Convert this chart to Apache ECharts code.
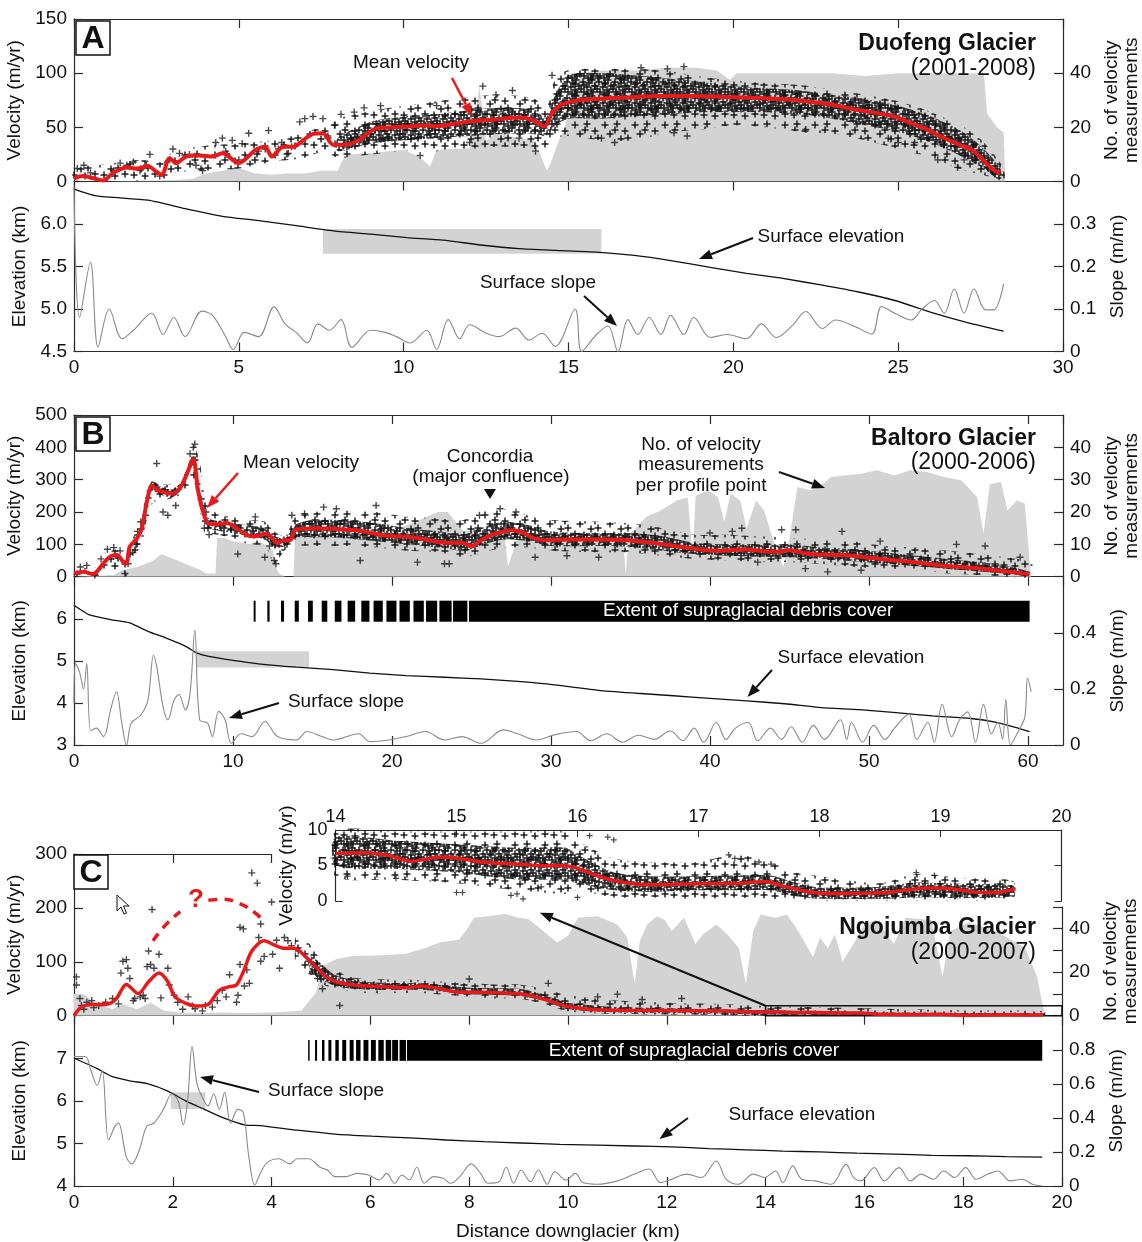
<!DOCTYPE html>
<html><head><meta charset="utf-8">
<script src="https://cdn.jsdelivr.net/npm/echarts@6/dist/echarts.min.js"></script>
<style>html,body{margin:0;padding:0;background:#fff}#c{width:1142px;height:1242px}</style>
</head><body><div id="c"></div>
<script>
// ---------------- DATA ----------------
// Panel A – Duofeng Glacier
const aMean = [[0,3],[0.28,5],[0.59,3],[0.89,1],[1.19,8],[1.6,13],[1.9,12],[2.25,14],[2.5,9],[2.66,6],[2.9,21.5],[3.1,17],[3.4,23],[3.8,24],[4.2,23],[4.5,26],[5.0,17],[5.5,29],[5.8,32],[6.0,23],[6.35,32],[6.65,32],[6.95,38],[7.25,44],[7.55,44.6],[7.86,34],[8.26,34],[8.66,38.5],[9.17,49],[9.68,50],[10.28,51],[10.7,52],[11.0,51],[11.7,54],[12.2,56],[12.7,57],[13.5,59],[13.9,57],[14.27,51],[14.5,63],[14.8,71],[15.3,75],[15.7,76],[16.75,77.5],[17.76,79],[18.8,79],[19.8,78],[20.8,77],[21.8,75.4],[22.8,71.7],[23.8,66],[24.8,60.6],[25.3,55],[25.8,49],[26.3,41.5],[26.85,34],[27.25,29],[27.55,20.6],[27.86,11.4],[28.1,7.7]];
const aCounts = [[0,0],[1,0],[2,0.3],[3,0.5],[3.6,1],[4.0,3],[4.5,4],[5.0,5],[5.5,3],[6.0,2.5],[6.5,3],[7.0,3],[7.5,4],[8.0,4],[8.15,8],[8.3,10],[9.0,10.5],[10.0,11.7],[10.5,9],[10.8,5.5],[11.0,11.7],[11.5,12],[12.0,12.3],[12.3,35],[12.5,15],[12.8,18],[13.5,16],[14.0,15],[14.2,8],[14.35,4],[14.5,8],[14.7,15],[14.9,20],[15.1,40],[16,41],[17,41],[18,42],[18.9,42],[19.5,41],[19.9,37.5],[20.1,40],[21,40],[22,40],[23,40],[24,39],[25,40],[26,40],[27,40],[27.6,40],[27.7,25],[28.0,20],[28.2,18],[28.25,0]];
const aBand = [[0,0,12],[1,0,16],[2,0,20],[2.7,0,18],[3,8,28],[4,10,33],[5,12,35],[6,18,38],[7,22,45],[7.6,28,52],[8,22,58],[9,25,65],[10,28,70],[11,28,74],[12,30,78],[13,32,80],[14,30,76],[14.3,30,65],[14.6,40,95],[15,42,103],[16,38,104],[17,38,104],[18,45,102],[19,48,97],[20,52,93],[21,50,91],[22,46,89],[23,44,85],[24,38,80],[25,30,74],[26,22,64],[27,10,50],[27.6,6,36],[28.2,0,12]];
const aCore = [[8,28,40],[9,35,55],[10,38,60],[11,40,62],[12,42,66],[13,44,68],[14,44,66],[14.3,42,58],[14.6,52,80],[15,58,98],[16,58,100],[17,60,98],[18,62,95],[19,64,92],[20,64,88],[21,64,86],[22,62,84],[23,58,80],[24,52,76],[25,46,70],[26,36,60],[27,22,45],[27.6,12,30],[28.1,1,12]];
const aPts = [[0.1,12],[0.3,15],[0.5,8],[1.2,10],[1.4,17],[1.6,15],[1.8,18],[2.0,10],[2.2,15],[2.3,25],[2.6,5],[2.9,20],[3.0,30],[3.2,26],[3.5,25],[3.7,15],[3.9,10],[4.3,36],[4.5,40],[4.6,28],[4.8,38],[5.0,20],[5.1,35],[5.3,44.6],[5.6,28],[5.8,30],[5.9,47],[6.2,30],[6.3,36],[6.5,26],[6.6,32],[6.85,55],[7.0,58],[7.25,60],[7.55,58],[7.7,42],[7.9,52],[8.1,62],[8.5,64],[8.8,68],[9.3,70],[10.5,24],[11.0,70],[12.4,88],[12.8,80],[13.3,84],[12.0,36],[13.5,40],[14.0,28],[14.5,98],[16.0,40],[16.4,36],[18.2,45],[18.6,42],[22.2,48],[24.7,40],[25.0,36],[25.5,36],[26.2,20],[26.8,13],[27.0,20],[18.5,106],[18.0,104],[17.2,105]];
const aElev = [[0,6.41],[0.68,6.33],[2.25,6.28],[3.37,6.18],[4.5,6.09],[5.6,6.04],[6.74,5.98],[7.87,5.92],[9.0,5.88],[10.1,5.84],[11.2,5.81],[12.4,5.75],[13.5,5.71],[14.6,5.69],[15.85,5.67],[17.0,5.63],[18.1,5.57],[19.3,5.49],[20.4,5.42],[21.5,5.36],[22.7,5.28],[23.8,5.2],[24.9,5.1],[26.0,4.96],[27.1,4.84],[28.2,4.74]];
const aSlope = [[0,0.39],[0.17,0.08],[0.5,0.21],[0.73,0.01],[1.07,0.1],[1.46,0.03],[1.8,0.05],[2.36,0.09],[2.7,0.04],[3.03,0.08],[3.37,0.035],[3.88,0.095],[4.2,0.085],[4.6,0.035],[4.83,0.005],[5.17,0.045],[5.6,0.035],[6.07,0.105],[6.4,0.065],[6.74,0.045],[7.08,0.02],[7.4,0.065],[7.75,0.05],[8.1,0.075],[8.43,0.01],[9.0,0.05],[9.44,0.045],[9.78,0.035],[10.2,0.02],[10.7,0.05],[11.0,0.005],[11.35,0.075],[11.7,0.03],[12.0,0.063],[12.5,0.043],[12.9,0.035],[13.4,0.055],[13.8,0.027],[14.2,0.043],[14.6,0.012],[15.2,0.1],[15.4,0.0],[15.85,0.04],[16.2,0.06],[16.5,0.0],[16.8,0.075],[17.1,0.04],[17.45,0.08],[17.8,0.04],[18.1,0.085],[18.5,0.04],[18.8,0.08],[19.3,0.033],[19.8,0.04],[20.4,0.03],[20.85,0.065],[21.3,0.033],[21.8,0.062],[22.2,0.094],[22.7,0.054],[23.1,0.074],[23.7,0.058],[24.2,0.041],[24.5,0.106],[24.9,0.09],[25.4,0.074],[25.7,0.098],[26.1,0.12],[26.4,0.09],[26.7,0.147],[27.0,0.09],[27.3,0.147],[27.65,0.098],[27.9,0.098],[28.2,0.159]];
const aBox = [7.55, 16.0, 5.65, 5.94];

// Panel B – Baltoro Glacier
const bMean = [[0,10],[0.6,15],[1.2,8],[1.85,41],[2.27,62],[2.7,67],[3.1,46],[3.3,41],[3.5,92],[3.95,118],[4.26,149],[4.6,236],[4.9,282],[5.2,269],[5.6,262],[6.15,257],[6.7,277],[7.1,318],[7.5,364],[7.8,267],[8.15,195],[8.47,164],[9.0,162],[9.6,166],[10.25,149],[10.9,128],[11.5,125],[12.1,133],[12.6,113],[12.8,103],[13.2,113],[13.6,113],[13.9,144],[14.9,149],[15.9,149],[17.0,146],[18.0,142],[19.1,131],[20.1,125],[21.2,123],[22.3,113],[23.3,105],[24.4,105],[25.0,94],[25.6,113],[26.5,133],[27.5,144],[28.1,139],[29.0,118],[29.8,113],[31.1,115],[32.7,115],[34.8,113],[36.9,101],[39.0,87],[40.4,80],[42.1,84],[44.2,77],[45.0,82],[46.3,70],[48.4,67],[50.5,56],[52.6,46],[54.7,34],[56.8,26],[57.8,21],[60.1,8]];
const bCounts = [[0,0],[2.5,0.5],[3.0,2],[4.0,3],[5.0,5],[5.5,7],[6.0,6],[6.5,5],[7.0,4],[7.5,3],[8.0,2],[8.3,1],[8.9,1],[9.0,12],[9.5,12],[10,11],[11,10],[11.5,11],[12,10],[12.5,8],[12.7,3],[12.9,1],[13.3,0],[13.8,0],[13.9,13],[15,13],[20,14],[22.9,20],[23.5,20],[24.5,14],[25.5,15],[26.5,14],[27.1,12],[27.3,3],[28,14],[30,13],[34.5,13],[34.7,1],[34.9,13],[35.4,15.4],[36.0,18.5],[36.9,20.5],[37.9,23.6],[38.6,24.6],[38.9,7],[39.1,25],[39.9,26.7],[40.5,24.6],[40.9,17],[41.3,25.7],[41.9,23.6],[42.3,15],[42.9,23.6],[43.4,20.5],[44.0,11],[44.6,3],[45.0,12],[45.5,27.7],[46.3,26.7],[46.9,27.7],[47.6,30.8],[48.4,31.3],[49.5,31.8],[50.5,32.9],[51.6,31.3],[52.6,32.9],[53.7,32.3],[54.7,30.8],[55.8,29.8],[56.8,24.6],[57.2,13.3],[57.6,28.7],[58.3,29.3],[58.7,20.5],[59.3,23.6],[59.8,22.6],[60.1,5],[60.2,0]];
const bBand = [[0,0,25],[1.5,0,30],[2.0,20,75],[3.0,20,85],[3.3,0,70],[3.6,60,110],[4.2,90,170],[4.6,180,270],[5.0,230,290],[6.0,240,285],[7.0,260,320],[7.5,300,405],[7.9,200,360],[8.3,140,230],[9.0,130,195],[10,120,185],[11,100,175],[12,95,170],[12.6,40,140],[13.3,85,125],[13.9,95,185],[15,95,200],[17,95,205],[19,90,200],[21,80,185],[23,75,180],[24.5,60,175],[25.5,70,200],[27,90,210],[28.5,90,190],[30,80,175],[33,75,170],[35,75,165],[37,65,150],[39,55,130],[41,50,130],[43,45,125],[45,45,120],[47,40,115],[49,30,110],[51,25,95],[53,20,90],[55,10,80],[57,5,70],[58.5,0,60],[60.2,0,45]];
const bCore = [[4.3,130,165],[4.6,215,255],[4.9,265,295],[5.6,250,275],[6.15,245,270],[6.7,265,290],[7.1,305,330],[7.5,345,380],[7.8,250,290],[8.2,180,210],[8.5,150,180],[10,135,165],[12,115,150],[12.6,90,125],[13.3,95,120],[13.9,120,160],[15,122,175],[17,120,175],[19,110,165],[21,100,150],[23,90,140],[24.5,80,130],[25.5,95,150],[27,115,170],[28.5,110,160],[30,95,140],[33,95,135],[35,92,135],[37,80,125],[39,70,105],[41,65,100],[43,62,100],[45,60,100],[47,55,90],[49,48,85],[51,40,75],[53,32,65],[55,24,55],[57,16,45],[58.5,10,35],[60.1,2,15]];
const bPts = [[0.4,30],[0.8,35],[1.3,5],[1.7,55],[2.1,85],[2.5,90],[2.9,80],[3.2,10],[3.4,40],[3.7,75],[3.9,100],[4.0,140],[4.2,170],[4.5,190],[5.2,350],[5.6,200],[5.9,190],[6.4,220],[7.3,380],[7.5,400],[7.6,410],[8.2,150],[8.5,130],[8.3,200],[10.3,70],[11.4,185],[12.0,60],[12.3,95],[12.6,50],[12.7,40],[13.7,190],[14.5,195],[15.7,215],[16.5,210],[18.0,50],[19.0,220],[21.6,45],[23.3,40],[23.6,40],[25.5,190],[26.8,210],[27.8,200],[29.0,60],[31.0,65],[33.0,60],[40.0,135],[41.4,140],[42.0,150],[44.5,145],[45.4,145],[47.4,15],[48.3,140],[50.7,110],[55.5,100],[57.3,95],[59.5,60],[43.0,45],[46.0,25],[49.5,20]];
const bElev = [[0,6.32],[0.93,6.1],[2.3,5.98],[3.5,5.9],[4.65,5.7],[5.8,5.54],[7.0,5.35],[7.7,5.19],[8.4,5.11],[10,5.01],[11.6,4.93],[14,4.85],[16.3,4.79],[18.6,4.71],[20.9,4.65],[23.3,4.61],[25.6,4.57],[27.9,4.51],[30.2,4.43],[33.0,4.3],[35.4,4.23],[37.7,4.17],[40.0,4.11],[42.3,4.05],[44.7,3.98],[47.0,3.89],[49.4,3.84],[51.7,3.77],[54.0,3.69],[56.4,3.63],[58.0,3.54],[59.2,3.42],[60.1,3.32]];
const bSlope = [[0,0.149],[0.1,0.29],[0.35,0.26],[0.6,0.2],[0.8,0.29],[1.05,0.05],[1.4,0.06],[1.86,0.03],[2.3,0.125],[2.67,0.19],[3.0,0.08],[3.3,0],[3.6,0.078],[4.2,0.107],[4.65,0.16],[5.0,0.32],[5.2,0.28],[5.6,0.137],[5.9,0.09],[6.3,0.16],[6.6,0.18],[7.0,0.125],[7.3,0.185],[7.6,0.41],[7.9,0.09],[8.4,0.078],[8.7,0.03],[9.1,0.12],[9.5,0.09],[9.9,0.006],[10.5,0.04],[11.2,0.03],[12.0,0.084],[12.8,0.03],[14,0.018],[14.65,0.048],[15.6,0.03],[16.3,0.018],[17.9,0.04],[18.6,0.012],[19.8,0.018],[20.9,0.03],[22.1,0.048],[23.3,0.018],[24.4,0.03],[25.6,0.006],[27.0,0.054],[27.9,0.04],[29.1,0.018],[30.2,0.036],[31.6,0.048],[32.5,0.015],[33.5,0.04],[34.5,0.01],[35.5,0.035],[36.5,0.02],[37.5,0.05],[38.3,0.015],[39.0,0.06],[39.6,0.01],[40.4,0.08],[41.0,0.02],[41.6,0.06],[42.4,0.08],[43.0,0.015],[43.8,0.06],[44.5,0.02],[45.1,0.065],[45.8,0.01],[46.5,0.07],[47.2,0.02],[48.2,0.09],[48.6,0.02],[48.9,0.08],[49.6,0.01],[50.3,0.07],[51.0,0.02],[51.6,0.06],[52.5,0.11],[53.0,0.02],[53.7,0.08],[54.1,0.01],[54.6,0.145],[55.2,0.03],[55.7,0.09],[56.2,0.118],[56.7,0.01],[57.2,0.145],[57.7,0.04],[58.1,0.08],[58.4,0.02],[58.6,0.163],[58.9,0],[59.4,0.05],[59.8,0.1],[59.97,0.24],[60.2,0.19]];
const bBox = [7.67, 14.78, 4.84, 5.23];
const bDebrisStarts = [11.30,12.16,13.02,13.88,14.72,15.58,16.40,17.21,18.07,18.84,19.65,20.47,21.35,22.14,22.98,23.84];
const bDebrisWidths = [0.12,0.14,0.19,0.26,0.3,0.35,0.42,0.47,0.51,0.58,0.63,0.65,0.65,0.7,0.77,0.9];
const bDebrisSolid = [24.84, 60.1];
const bDebrisElev = [5.93, 6.43];

// Panel C – Ngojumba Glacier
const cMean = [[0,0],[0.15,16],[0.36,21],[0.64,21],[0.85,31],[1.06,58],[1.3,41],[1.51,63],[1.72,79],[1.9,63],[2.03,37],[2.24,24],[2.52,18],[2.73,22],[2.94,47],[3.15,54],[3.29,57],[3.43,82],[3.6,120],[3.85,139],[4.06,131],[4.26,125],[4.47,125],[4.68,110],[4.89,91],[5.1,73],[5.3,63],[5.66,57],[6.0,55],[6.7,52],[7.05,55],[7.4,50],[7.75,44],[8.45,43],[9.0,41],[9.5,31],[10.0,17],[10.6,11],[11.3,10],[12.0,9.5],[12.8,9],[13.5,8]];
const inMean = [[14.0,6.7],[14.25,6.8],[14.44,6.4],[14.63,5.6],[14.87,6.2],[15.0,6.06],[15.2,5.5],[15.5,5.2],[15.73,4.95],[15.9,4.95],[16.0,4.6],[16.2,3.35],[16.4,2.57],[16.6,2.3],[16.96,2.43],[17.35,2.5],[17.55,2.75],[17.7,2.1],[17.92,1.28],[18.1,1.05],[18.5,1.15],[18.7,1.5],[18.88,1.83],[19.1,1.73],[19.27,1.28],[19.46,1.2],[19.62,1.7]];
const cCounts = [[0,10],[0.2,10],[0.43,6],[0.78,3],[0.99,5.4],[1.27,3],[1.55,6],[1.83,2.3],[2.17,1.5],[2.5,1.2],[3.0,1.5],[3.5,1.2],[4.0,1.5],[4.6,2.3],[4.9,10.7],[5.03,23],[5.3,26],[5.66,27.6],[6.0,27.6],[6.7,28.4],[7.05,30.7],[7.4,33.7],[7.8,35],[7.96,40],[8.1,45],[8.45,46],[8.73,46.8],[9.0,45],[9.2,44.5],[9.5,39],[9.78,33.7],[10.0,36.8],[10.2,45],[10.6,45.7],[11.0,42],[11.2,36],[11.35,14.7],[11.45,34],[11.6,42],[11.8,45.8],[11.96,44],[12.1,39],[12.35,45],[12.58,33],[12.73,37.4],[13.0,42],[13.23,37.4],[13.46,31],[13.6,14.7],[13.75,39],[13.9,46.5],[14.2,45],[14.43,46.5],[14.66,39],[14.96,27],[15.1,36],[15.26,31],[15.4,37.4],[15.56,25],[15.78,33],[16.0,42],[16.23,44],[16.46,37.4],[16.6,33],[16.83,45],[17.36,44],[17.58,17.7],[17.74,39],[18.1,42.7],[18.5,40.5],[18.9,36],[19.26,31],[19.5,17.7],[19.6,5.6],[19.66,0]];
const cBand = [[4.5,95,150],[4.8,75,130],[5.0,60,105],[5.3,48,85],[5.6,45,72],[6,42,68],[7,42,66],[8,35,60],[8.5,32,58],[9,32,58],[9.5,22,50],[10,8,38],[11,3,28],[12,2,24],[13,1,22],[14,0,18],[16,0,14],[18,0,10],[19.65,0,8]];
const cCore = [[4.8,80,110],[5.3,55,75],[6,48,62],[7,48,60],[8,40,52],[9,37,50],[9.5,28,40],[10,12,24],[11,6,16],[12,5,14],[13,4,12],[14,2,10],[16,1,7],[18,0,5],[19.65,0,4]];
const cPts = [[0.05,72],[0.05,57],[0.12,32],[0.15,19],[0.26,25],[0.36,28],[0.5,19],[0.64,25],[0.78,32],[0.95,79],[0.99,101],[1.06,104],[1.09,88],[1.13,69],[1.23,32],[1.34,35],[1.44,32],[1.48,91],[1.55,95],[1.58,197],[1.62,88],[1.51,120],[1.72,114],[1.76,33],[1.9,88],[1.93,57],[2.03,38],[2.1,25],[2.31,35],[2.45,13],[2.6,9],[2.66,19],[2.8,16],[3.0,47],[3.15,76],[3.08,35],[3.29,25],[3.32,38],[3.36,95],[3.43,161],[3.5,85],[3.6,265],[3.71,246],[3.74,145],[3.78,101],[3.85,110],[4.0,211],[4.02,114],[4.16,88],[4.26,145],[4.33,139],[4.54,120],[4.75,101],[4.93,69],[5.03,50],[5.38,19],[3.78,170],[3.36,164],[0.2,12],[0.4,15],[0.9,22],[1.2,28],[1.4,38],[2.2,12],[2.4,18],[2.9,28],[3.45,55],[3.55,60],[4.4,130],[4.1,140],[8.0,68],[9.6,60],[10.6,35],[11.5,30],[12.3,32],[11.0,40]];
const cQuery1 = [[1.6,139],[1.85,168],[2.15,193]];
const cQuery2 = [[2.72,214],[3.0,216],[3.35,208],[3.65,192],[3.85,175]];
const cInsetBox = [14, 20, 0, 18.5];
const cInsetLink = [[14, 18.5], [9.43, 191]];
const cElev = [[0,7.0],[0.45,6.77],[0.75,6.58],[1.13,6.47],[1.5,6.4],[1.9,6.23],[2.26,6.0],[2.64,5.8],[3.0,5.61],[3.47,5.43],[3.77,5.42],[4.52,5.31],[5.28,5.22],[6.03,5.17],[6.8,5.13],[7.54,5.08],[8.3,5.04],[9.05,5.01],[9.84,4.98],[11.35,4.94],[12.1,4.92],[12.85,4.88],[13.6,4.85],[14.35,4.82],[15.1,4.8],[15.85,4.77],[16.6,4.75],[17.36,4.72],[18.1,4.71],[18.86,4.69],[19.6,4.68]];
const cSlope = [[0,0.76],[0.23,0.76],[0.34,0.68],[0.47,0.59],[0.57,0.68],[0.7,0.27],[0.83,0.35],[0.9,0.37],[1.06,0.17],[1.17,0.13],[1.32,0.21],[1.47,0.35],[1.62,0.37],[1.81,0.45],[1.98,0.54],[2.11,0.5],[2.21,0.36],[2.3,0.5],[2.39,0.82],[2.49,0.6],[2.6,0.52],[2.71,0.47],[2.83,0.54],[2.94,0.45],[3.05,0.55],[3.17,0.37],[3.32,0.45],[3.43,0.43],[3.54,0.17],[3.66,0.006],[3.77,0.074],[3.92,0.14],[4.15,0.16],[4.37,0.13],[4.52,0.16],[4.75,0.16],[4.98,0.11],[5.13,0.094],[5.28,0.055],[5.5,0.055],[5.73,0.074],[5.96,0.065],[6.18,0.035],[6.33,0.074],[6.49,0.016],[6.64,0.065],[6.79,0.035],[6.94,0.11],[7.09,0.016],[7.28,0.055],[7.47,0.045],[7.62,0.016],[7.81,0.055],[8.04,0.13],[8.23,0.074],[8.38,0.016],[8.6,0.025],[8.75,0.11],[8.9,0.016],[9.05,0.094],[9.24,0.025],[9.4,0.094],[9.58,0.01],[9.73,0.084],[9.96,0.035],[10.15,0.074],[10.3,0.02],[10.6,0.01],[11.0,0.03],[11.35,0.07],[11.64,0.1],[11.87,0.02],[12.1,0.04],[12.4,0.07],[12.7,0.05],[13.0,0.147],[13.2,0.04],[13.45,0.01],[13.75,0.07],[13.98,0.05],[14.2,0.088],[14.35,0.02],[14.55,0.118],[14.73,0.04],[15.0,0.03],[15.33,0.01],[15.63,0.127],[15.78,0.05],[15.93,0.03],[16.2,0.108],[16.4,0.03],[16.7,0.108],[16.93,0.03],[17.15,0.07],[17.4,0.04],[17.6,0.088],[17.83,0.05],[18.05,0.108],[18.26,0.04],[18.5,0.07],[18.7,0.088],[18.95,0.03],[19.2,0.04],[19.4,0.01],[19.6,0.0]];
const cBox = [1.96, 2.66, 5.81, 6.2];
const cDebrisStarts = [4.74,4.88,5.02,5.15,5.29,5.43,5.58,5.71,5.86,6.01,6.16,6.31,6.44,6.59];
const cDebrisWidths = [0.03,0.04,0.05,0.06,0.07,0.08,0.08,0.09,0.1,0.1,0.11,0.11,0.12,0.13];
const cDebrisSolid = [6.74, 19.6];
const cDebrisElev = [6.94, 7.43];
// inset (14–20 km)
const inBand = [[14.0,3.5,9.8],[14.5,3.0,9.8],[15.0,2.5,9.8],[15.5,1.5,9.8],[15.9,1.0,9.8],[16.0,1.5,8.5],[16.3,0.5,6.0],[16.6,0.5,5.5],[17.0,0.3,5.5],[17.3,0.5,6.5],[17.6,0.3,5.5],[17.8,0.3,4.0],[18.0,0,3.5],[18.5,0,2.5],[18.8,0,3.8],[19.2,0,3.2],[19.6,0.3,2.8]];
const inCore = [[14.0,5,9],[14.5,4.5,8.5],[15.0,4,8],[15.5,3,7.5],[15.9,3,7.5],[16.0,2.5,6.5],[16.3,1.5,4],[16.6,1.3,3.5],[17.0,1.5,3.5],[17.3,1.5,3.6],[17.6,1.5,3.6],[17.8,0.7,2.6],[18.0,0.3,1.9],[18.5,0.3,2.0],[18.8,0.5,2.6],[19.2,0.4,2.4],[19.6,0.7,2.2]];
const inPts = [[15.0,1.2],[15.05,1.2],[15.45,0.8],[15.5,1.0],[15.55,0.3],[16.0,0.5],[16.25,9.0],[16.3,8.6],[17.25,6.5],[17.3,6.0],[17.5,5.5],[17.6,5.2],[18.8,4.0],[18.95,3.6],[19.4,2.0],[19.45,2.1],[14.5,3.2],[14.1,3.5],[15.7,2.0],[16.1,9.2]];

// ---------------- STYLE ----------------
const FONT = '"Liberation Sans", Arial, Helvetica, sans-serif';
const RED = '#e8191b', GREY = '#d3d3d3', INK = '#1a1a1a', SLOPE = '#8a8a8a';
const PLUS = 'path://M4,0H6V4H10V6H6V10H4V6H0V4H4Z';

// seamless tiles of "+" marks used as fill texture for the dense point clouds
function tile(size, marks){
  const c = document.createElement('canvas'); c.width = size; c.height = size;
  const g = c.getContext('2d'); g.fillStyle = '#121212';
  marks.forEach(([x,y]) => {
    for (const dx of [-size,0,size]) for (const dy of [-size,0,size]) {
      g.fillRect(x+dx-3.5, y+dy-0.7, 7, 1.4); g.fillRect(x+dx-0.7, y+dy-3.5, 1.4, 7);
    }
  });
  return c;
}
const sparseTile = tile(30, [[5,5],[17,4],[25,11],[10,14],[21,19],[5,24],[14,25],[25,26],[15,10],[28,18]]);
const denseTile = tile(16, [[0,0],[7,2],[3,6],[11,7],[1,12],[8,12],[13,3],[5,9],[12,14],[15,10]]);

const chart = echarts.init(document.getElementById('c'), null, {renderer:'canvas', width:1142, height:1242});

const LBL = (o={}) => Object.assign({show:true, color:'#111', fontSize:19, fontFamily:FONT, margin:7}, o);
const NAME = {fontSize:19, fontFamily:FONT, color:'#111', lineHeight:20};
function ax(gi, pos, min, max, interval, o={}){
  return Object.assign({
    type:'value', gridIndex:gi, position:pos, min, max, interval,
    axisLine:{show:true, onZero:false, lineStyle:{color:'#2a2a2a', width:1.2}},
    axisTick:{show:true, inside:true, length:9, lineStyle:{color:'#2a2a2a', width:1.2}},
    axisLabel:{show:false}, splitLine:{show:false}
  }, o);
}
const yName = (name, gap) => ({name, nameLocation:'middle', nameGap:gap, nameRotate:90, nameTextStyle:NAME});

const L = 74, W = 989;
const grids = [
  {left:L, top:19, width:W, height:162.5},
  {left:L, top:181.5, width:W, height:170},
  {left:L, top:415, width:W, height:161.7},
  {left:L, top:576.7, width:W, height:168.3},
  {left:L, top:854, width:988, height:161.7},
  {left:L, top:907, width:988, height:108.7},
  {left:L, top:1015.7, width:988, height:170.3},
  {left:335.5, top:830, width:726, height:71},
  {left:L, top:854, width:197.6, height:161.7}
].map(g => Object.assign({outerBoundsMode:'none', containLabel:false}, g));

const xAxes = [
  ax(0,'top',0,30,5),
  ax(1,'bottom',0,30,5,{axisLabel:LBL()}),
  ax(1,'top',0,30,5),
  ax(2,'top',0,62.2,10),
  ax(3,'bottom',0,62.2,10,{axisLabel:LBL({showMaxLabel:false})}),
  ax(3,'top',0,62.2,10),
  {type:'value', gridIndex:4, min:0, max:20, show:false},
  {type:'value', gridIndex:5, min:0, max:20, show:false},
  ax(6,'bottom',0,20,2,{axisLabel:LBL(), name:'Distance downglacier (km)', nameLocation:'middle', nameGap:36, nameTextStyle:NAME}),
  ax(6,'top',0,20,2),
  ax(7,'top',14,20,1,{axisLabel:LBL({margin:4, fontSize:18}), axisTick:{show:true, inside:true, length:7, lineStyle:{color:'#2a2a2a'}}}),
  ax(8,'top',0,4,2)
];
const yAxes = [
  ax(0,'left',0,150,50,Object.assign({axisLabel:LBL()}, yName('Velocity (m/yr)',44))),
  ax(0,'right',0,60,20,Object.assign({axisLabel:LBL({showMaxLabel:false})}, yName('No. of velocity\nmeasurements',36))),
  ax(1,'left',4.5,6.5,0.5,Object.assign({axisLabel:LBL({showMaxLabel:false, formatter:v=>v.toFixed(1)})}, yName('Elevation (km)',44))),
  ax(1,'right',0,0.4,0.1,Object.assign({axisLabel:LBL({showMaxLabel:false})}, yName('Slope (m/m)',36))),
  ax(2,'left',0,500,100,Object.assign({axisLabel:LBL()}, yName('Velocity (m/yr)',44))),
  ax(2,'right',0,50,10,Object.assign({axisLabel:LBL({showMaxLabel:false})}, yName('No. of velocity\nmeasurements',36))),
  ax(3,'left',3,7,1,Object.assign({axisLabel:LBL({showMaxLabel:false})}, yName('Elevation (km)',44))),
  ax(3,'right',0,0.6,0.2,Object.assign({axisLabel:LBL({showMaxLabel:false})}, yName('Slope (m/m)',36))),
  ax(4,'left',0,300,100,Object.assign({axisLabel:LBL()}, yName('Velocity (m/yr)',44))),
  ax(5,'right',0,50,10,Object.assign({axisLabel:LBL({formatter:v=>(v%20===0?String(v):'')})}, yName('No. of velocity\nmeasurements',36))),
  ax(6,'left',4,8,1,Object.assign({axisLabel:LBL({showMaxLabel:false})}, yName('Elevation (km)',44))),
  ax(6,'right',0,1,0.2,Object.assign({axisLabel:LBL({showMaxLabel:false})}, yName('Slope (m/m)',38))),
  ax(7,'left',0,10,5,Object.assign({axisLabel:LBL({fontSize:18, margin:8}), axisTick:{show:true, inside:true, length:7, lineStyle:{color:'#2a2a2a'}}}, yName('Velocity (m/yr)',32))),
  ax(7,'right',0,10,5,{axisTick:{show:true, inside:true, length:7, lineStyle:{color:'#2a2a2a'}}}),
  {type:'value', gridIndex:8, min:0, max:300, show:false}
];

// -------------- series builders --------------
function counts(xi, yi, data){
  return {type:'line', xAxisIndex:xi, yAxisIndex:yi, data, symbol:'none', silent:true, z:1,
    lineStyle:{width:0, color:GREY}, areaStyle:{color:GREY, opacity:1}};
}
function band(xi, yi, data, img, z){
  return {type:'custom', xAxisIndex:xi, yAxisIndex:yi, z, silent:true, data, encode:{x:0, y:[1,2]},
    renderItem(params, api){
      if (params.dataIndex !== 0) return null;
      const top = data.map(d => api.coord([d[0], d[2]]));
      const bot = data.map(d => api.coord([d[0], d[1]])).reverse();
      return {type:'polygon', shape:{points: top.concat(bot), smooth:0.25}, style:{fill:{image:img, repeat:'repeat'}}};
    }};
}
function pts(xi, yi, data, size){
  return {type:'scatter', xAxisIndex:xi, yAxisIndex:yi, data, symbol:PLUS, symbolSize:size||7, silent:true, z:4,
    itemStyle:{color:INK}};
}
function line(xi, yi, data, color, width, z, extra){
  return Object.assign({type:'line', xAxisIndex:xi, yAxisIndex:yi, data, symbol:'none', silent:true, z:z||3,
    lineStyle:{color, width}}, extra||{});
}
function box(xi, yi, r, style, z){
  return {type:'custom', xAxisIndex:xi, yAxisIndex:yi, z:z||1, silent:true, data:[[r[0], r[2]]],
    renderItem(params, api){
      const p0 = api.coord([r[0], r[3]]), p1 = api.coord([r[1], r[2]]);
      return {type:'rect', shape:{x:p0[0], y:p0[1], width:p1[0]-p0[0], height:p1[1]-p0[1]}, style};
    }};
}
function debris(xi, yi, starts, widths, solid, ey, textX){
  return {type:'custom', xAxisIndex:xi, yAxisIndex:yi, z:5, silent:true, data:[[solid[0], ey[0]]],
    renderItem(params, api){
      const ch = [];
      const r = (x0, x1) => { const a = api.coord([x0, ey[1]]), b = api.coord([x1, ey[0]]);
        ch.push({type:'rect', shape:{x:a[0], y:a[1], width:b[0]-a[0], height:b[1]-a[1]}, style:{fill:'#000'}}); };
      starts.forEach((s, i) => r(s, s + widths[i]));
      r(solid[0], solid[1]);
      const c = api.coord([textX, (ey[0]+ey[1])/2]);
      ch.push({type:'text', style:{text:'Extent of supraglacial debris cover', x:c[0], y:c[1], fill:'#fff',
        font:`19px ${FONT}`, textAlign:'center', textVerticalAlign:'middle', align:'center', verticalAlign:'middle'}});
      return {type:'group', children:ch};
    }};
}
function link(xi, yi, seg){
  return {type:'custom', xAxisIndex:xi, yAxisIndex:yi, z:6, silent:true, data:[seg[0]],
    renderItem(params, api){
      const a = api.coord(seg[0]), b = api.coord(seg[1]);
      const ang = Math.atan2(b[1]-a[1], b[0]-a[0]), Lh = 13, Wh = 5;
      const bx = b[0] - Lh*Math.cos(ang), by = b[1] - Lh*Math.sin(ang);
      return {type:'group', children:[
        {type:'line', shape:{x1:a[0], y1:a[1], x2:bx, y2:by}, style:{stroke:'#111', lineWidth:2}},
        {type:'polygon', shape:{points:[[b[0],b[1]],[bx - Wh*Math.sin(ang), by + Wh*Math.cos(ang)],[bx + Wh*Math.sin(ang), by - Wh*Math.cos(ang)]]}, style:{fill:'#111'}}
      ]};
    }};
}
const SM = {smooth:0.35};

const series = [
  // A
  counts(0,1,aCounts), band(0,0,aBand,sparseTile,2), band(0,0,aCore,denseTile,2), pts(0,0,aPts),
  line(0,0,aMean,RED,4,6,{smooth:0.3}),
  box(1,2,aBox,{fill:GREY},1), line(1,2,aElev,'#111',1.3,3,{smooth:0.2}), line(1,3,aSlope,SLOPE,1.1,3,SM),
  // B
  counts(3,5,bCounts), band(3,4,bBand,sparseTile,2), band(3,4,bCore,denseTile,2), pts(3,4,bPts),
  line(3,4,bMean,RED,4,6,{smooth:0.3}),
  box(4,6,bBox,{fill:GREY},1), line(4,6,bElev,'#111',1.3,3,{smooth:0.2}), line(4,7,bSlope,SLOPE,1.1,3,SM),
  debris(4,6,bDebrisStarts,bDebrisWidths,bDebrisSolid,bDebrisElev,42.4),
  // C
  counts(7,9,cCounts), band(6,8,cBand,sparseTile,2), band(6,8,cCore,denseTile,2), pts(6,8,cPts),
  line(6,8,cMean.concat(inMean),RED,3.5,6,{smooth:0.3}),
  line(6,8,cQuery1,RED,3.5,6,{smooth:true, lineStyle:{color:RED, width:3.5, type:[9,7]}}),
  line(6,8,cQuery2,RED,3.5,6,{smooth:true, lineStyle:{color:RED, width:3.5, type:[9,7]}}),
  box(6,8,cInsetBox,{fill:null, stroke:'#111', lineWidth:1.6},6),
  link(6,8,cInsetLink),
  band(10,12,inBand,sparseTile,2), band(10,12,inCore,denseTile,2), pts(10,12,inPts,6),
  line(10,12,inMean,RED,3.5,6,{smooth:0.3}),
  box(8,10,cBox,{fill:GREY},1), line(8,10,cElev,'#111',1.3,3,{smooth:0.2}), line(8,11,cSlope,SLOPE,1.1,3,SM),
  debris(8,10,cDebrisStarts,cDebrisWidths,cDebrisSolid,cDebrisElev,12.55)
];

// -------------- annotations (layout, pixels) --------------
const T = (x, y, text, o={}) => ({type:'text', x, y, silent:true, z:100,
  style:Object.assign({text, fill:'#111', font:`19px ${FONT}`, textAlign:'center', textVerticalAlign:'middle', align:'center', verticalAlign:'middle'}, o)});
function arrow(x1, y1, x2, y2, color, w){
  const ang = Math.atan2(y2-y1, x2-x1), Lh = 13, Wh = 5;
  const bx = x2 - Lh*Math.cos(ang), by = y2 - Lh*Math.sin(ang);
  return [
    {type:'line', silent:true, z:100, shape:{x1, y1, x2:bx, y2:by}, style:{stroke:color, lineWidth:w}},
    {type:'polygon', silent:true, z:100, shape:{points:[[x2,y2],[bx - Wh*Math.sin(ang), by + Wh*Math.cos(ang)],[bx + Wh*Math.sin(ang), by - Wh*Math.cos(ang)]]}, style:{fill:color}}
  ];
}
const graphics = [];
[['A',76,21],['B',76,417],['C',74,855]].forEach(([t,x,y]) => {
  graphics.push({type:'rect', silent:true, z:99, shape:{x, y, width:34, height:34}, style:{fill:'#fff', stroke:'#111', lineWidth:1.5}});
  graphics.push(T(x+17, y+18, t, {font:`bold 32px ${FONT}`}));
});
const RT = {textAlign:'right', align:'right'};
graphics.push(T(1036, 44, 'Duofeng Glacier', Object.assign({font:`bold 23px ${FONT}`}, RT)));
graphics.push(T(1036, 69, '(2001-2008)', Object.assign({font:`23px ${FONT}`}, RT)));
graphics.push(T(1036, 439, 'Baltoro Glacier', Object.assign({font:`bold 23px ${FONT}`}, RT)));
graphics.push(T(1036, 463, '(2000-2006)', Object.assign({font:`23px ${FONT}`}, RT)));
graphics.push(T(1036, 928, 'Ngojumba Glacier', Object.assign({font:`bold 23px ${FONT}`}, RT)));
graphics.push(T(1036, 953, '(2000-2007)', Object.assign({font:`23px ${FONT}`}, RT)));

graphics.push(T(411, 63, 'Mean velocity'));
graphics.push(...arrow(452, 78, 472, 116, RED, 2.5));
graphics.push(T(831, 237, 'Surface elevation'));
graphics.push(...arrow(753, 238, 699, 259, '#111', 2));
graphics.push(T(538, 283, 'Surface slope'));
graphics.push(...arrow(584, 296, 617, 326, '#111', 2));

graphics.push(T(301, 463, 'Mean velocity'));
graphics.push(...arrow(238, 473, 207, 508, RED, 2.5));
graphics.push(T(490, 457, 'Concordia'));
graphics.push(T(491, 477, '(major confluence)'));
graphics.push({type:'polygon', silent:true, z:100, shape:{points:[[484,489],[496,489],[490,499]]}, style:{fill:'#111'}});
graphics.push(T(701, 445, 'No. of velocity'));
graphics.push(T(701, 465, 'measurements'));
graphics.push(T(701, 486, 'per profile point'));
graphics.push(...arrow(779, 472, 825, 488, '#111', 2));
graphics.push(T(851, 658, 'Surface elevation'));
graphics.push(...arrow(772, 670, 747.5, 697, '#111', 2));
graphics.push(T(346, 702, 'Surface slope'));
graphics.push(...arrow(279, 703, 229, 718, '#111', 2));

graphics.push(T(196, 900, '?', {font:`bold 26px ${FONT}`, fill:RED}));
graphics.push(T(326, 1091, 'Surface slope'));
graphics.push(...arrow(259, 1092, 200, 1077, '#111', 2));
graphics.push(T(802, 1115, 'Surface elevation'));
graphics.push(...arrow(688, 1118, 659.5, 1139, '#111', 2));
graphics.push({type:'polygon', silent:true, z:100, shape:{points:[[117,895],[117,911],[121,907],[124,914],[126.5,913],[123.5,906],[129,906]]}, style:{fill:'#fff', stroke:'#111', lineWidth:1}});

chart.setOption({
  animation:false, backgroundColor:'#fff',
  textStyle:{fontFamily:FONT},
  grid:grids, xAxis:xAxes, yAxis:yAxes, series, graphic:graphics
});
</script></body></html>
